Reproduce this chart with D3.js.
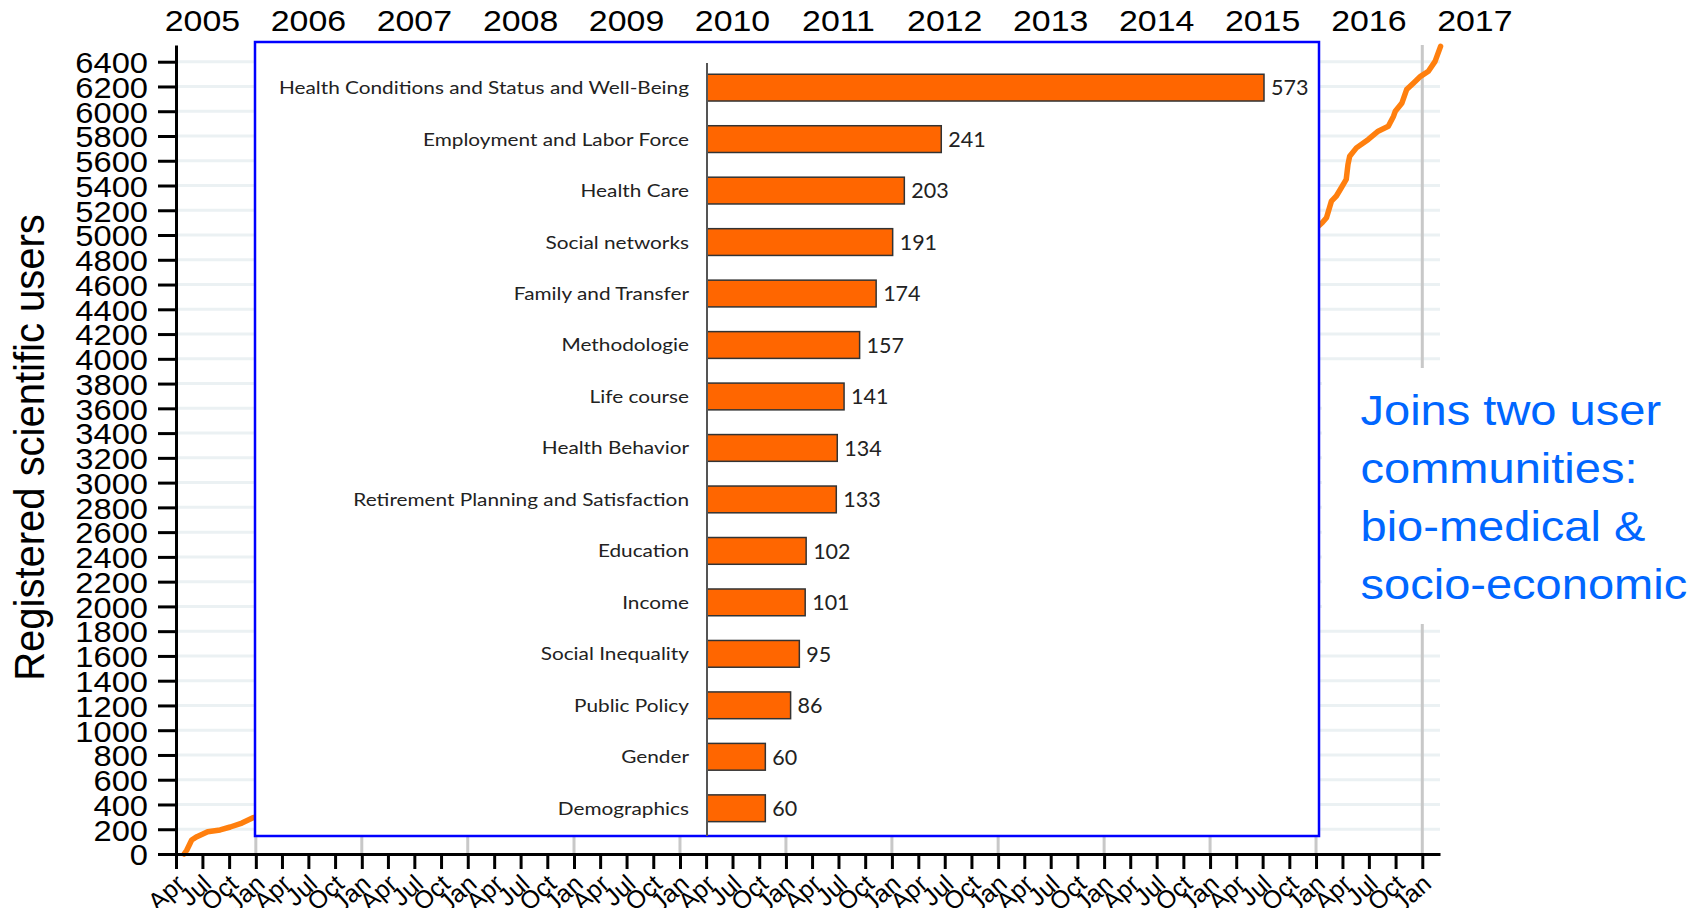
<!DOCTYPE html>
<html><head><meta charset="utf-8">
<script src="https://cdn.jsdelivr.net/npm/d3@7"></script>
<style>body{margin:0;background:#fff;} svg{display:block;}</style>
</head><body>
<svg id="c" width="1706" height="908"></svg>
<script>
// ---------- data ----------
const yearLabels = ["2005","2006","2007","2008","2009","2010","2011","2012","2013","2014","2015","2016","2017"];
const yTickValues = [0,200,400,600,800,1000,1200,1400,1600,1800,2000,2200,2400,2600,2800,3000,3200,3400,3600,3800,4000,4200,4400,4600,4800,5000,5200,5400,5600,5800,6000,6200,6400];
// cumulative registered users (visible parts; the section hidden behind the inset is left as a gap)
const userDates = ["2005-04-29","2005-05-08","2005-05-25","2005-06-12","2005-07-19","2005-08-31","2005-10-05","2005-11-14","2005-12-22","2006-01-04",
  null,
  "2016-01-08","2016-01-22","2016-02-06","2016-02-23","2016-03-11","2016-03-28","2016-04-14","2016-04-20","2016-04-26","2016-05-19","2016-06-29",
  "2016-08-02","2016-09-06","2016-09-24","2016-09-30","2016-10-23","2016-11-08","2016-12-02","2016-12-26","2017-01-22","2017-02-14","2017-03-05"];
const userCounts = [0,30,113,140,180,194,218,250,293,300,
  null,
  5070,5099,5140,5274,5315,5382,5449,5570,5637,5704,5772,
  5839,5879,5960,6000,6067,6175,6228,6282,6323,6403,6524];
const topics = ["Health Conditions and Status and Well-Being","Employment and Labor Force","Health Care","Social networks","Family and Transfer","Methodologie","Life course","Health Behavior","Retirement Planning and Satisfaction","Education","Income","Social Inequality","Public Policy","Gender","Demographics"];
const topicCounts = [573,241,203,191,174,157,141,134,133,102,101,95,86,60,60];
const yAxisTitle = "Registered scientific users";
const noteLines = ["Joins two user","communities:","bio-medical &","socio-economic"];

// ---------- drawing ----------
const svg = d3.select("#c");
const ARIAL = "'Liberation Sans', Arial, sans-serif";
const CAL = "Lato, 'Open Sans', sans-serif";
const parse = d3.timeParse("%Y-%m-%d");

const x = d3.scaleTime().domain([new Date(2005,3,1), new Date(2017,2,3)]).range([176,1440]);
const y = d3.scaleLinear().domain([0,6535]).range([854,45]);

// horizontal gridlines
svg.append("g").selectAll("line").data(yTickValues.filter(d=>d>0)).join("line")
  .attr("x1",176).attr("x2",1440).attr("y1",d=>y(d)).attr("y2",d=>y(d))
  .attr("stroke","#ebf1f3").attr("stroke-width",3);

// January vertical lines
const janDates = d3.timeYear.range(new Date(2006,0,1), new Date(2017,0,2));
svg.append("g").selectAll("line").data(janDates).join("line")
  .attr("x1",d=>x(d)).attr("x2",d=>x(d)).attr("y1",45).attr("y2",854)
  .attr("stroke","#c8c8c8").attr("stroke-width",3);

// cumulative line
const pts = userDates.map((d,i)=> d==null ? null : {t:parse(d), v:userCounts[i]});
const line = d3.line().defined(d=>d!=null).x(d=>x(d.t)).y(d=>y(d.v));
svg.append("path").datum(pts).attr("d",line).attr("fill","none")
  .attr("stroke","#ff7f0e").attr("stroke-width",5.5).attr("stroke-linejoin","round").attr("stroke-linecap","round");

// year labels on top
svg.append("g").selectAll("text").data(yearLabels).join("text")
  .attr("transform",d=>`translate(${x(new Date(+d,6,1))},31) scale(1.13,1)`)
  .attr("text-anchor","middle").attr("font-family",ARIAL).attr("font-size",30).attr("fill","#000")
  .text(d=>d);

// x axis
const quarterTicks = d3.timeMonth.every(3).range(new Date(2005,3,1), new Date(2017,0,2));
const gx = svg.append("g").attr("transform","translate(0,854)")
  .call(d3.axisBottom(x).tickValues(quarterTicks).tickFormat(d3.timeFormat("%b")).tickSize(15).tickSizeOuter(0));
gx.select(".domain").attr("stroke","#000").attr("stroke-width",3);
gx.selectAll(".tick line").attr("stroke","#000").attr("stroke-width",3);
gx.selectAll(".tick text").attr("x",0).attr("y",0).attr("dy",0)
  .attr("transform","translate(10,32) rotate(-42)").attr("text-anchor","end")
  .attr("font-family",ARIAL).attr("font-size",25).attr("fill","#000");

// y axis
const gy = svg.append("g").attr("transform","translate(176,0)")
  .call(d3.axisLeft(y).tickValues(yTickValues).tickFormat(d3.format("d")).tickSize(18).tickPadding(10).tickSizeOuter(0));
gy.select(".domain").attr("stroke","#000").attr("stroke-width",3);
gy.selectAll(".tick line").attr("stroke","#000").attr("stroke-width",3);
gy.selectAll(".tick text").attr("x",-28/1.09).attr("dy","0.36em").attr("transform","scale(1.09,1)")
  .attr("font-family",ARIAL).attr("font-size",30).attr("fill","#000");

// y axis title
svg.append("text").attr("transform","translate(43.5,447.5) scale(1.07,1) rotate(-90)")
  .attr("text-anchor","middle").attr("font-family",ARIAL).attr("font-size",40).attr("fill","#000")
  .text(yAxisTitle);

// inset box
svg.append("rect").attr("x",255).attr("y",42).attr("width",1064).attr("height",794)
  .attr("fill","#fff").attr("stroke","#0000ff").attr("stroke-width",2.5);

// inset bar chart
const yb = d3.scaleBand().domain(topics).range([61.9,834]).paddingInner(0.48).paddingOuter(0.24);
const xb = d3.scaleLinear().domain([0,573]).range([707,1264]);
const inset = svg.append("g");
inset.selectAll("rect").data(topics).join("rect")
  .attr("x",xb(0)).attr("y",d=>yb(d)).attr("width",(d,i)=>xb(topicCounts[i])-xb(0)).attr("height",yb.bandwidth())
  .attr("fill","#ff6600").attr("stroke","#333").attr("stroke-width",1.5);
inset.selectAll("text.val").data(topics).join("text").attr("class","val")
  .attr("x",(d,i)=>xb(topicCounts[i])+7).attr("y",d=>yb(d)+yb.bandwidth()/2).attr("dy","0.36em")
  .attr("font-family",CAL).attr("font-size",21.5).attr("fill","#222")
  .text((d,i)=>topicCounts[i]);
const gb = inset.append("g").attr("transform",`translate(${xb(0)},0)`)
  .call(d3.axisLeft(yb).tickSize(0).tickPadding(18));
gb.select(".domain").attr("d","M0,63V836").attr("stroke","#555").attr("stroke-width",2);
gb.selectAll(".tick text").attr("x",-18/1.155).attr("dy","0.36em").attr("transform","scale(1.155,1)")
  .attr("font-family",CAL).attr("font-size",18).attr("fill","#222");

// annotation
svg.append("rect").attr("x",1322).attr("y",368).attr("width",384).attr("height",256).attr("fill","#fff");
svg.append("g").selectAll("text").data(noteLines).join("text")
  .attr("transform",(d,i)=>`translate(1360.5,${425+i*58}) scale(1.12,1)`)
  .attr("font-family",ARIAL).attr("font-size",42).attr("fill","#0066ff")
  .text(d=>d);
</script>
</body></html>
